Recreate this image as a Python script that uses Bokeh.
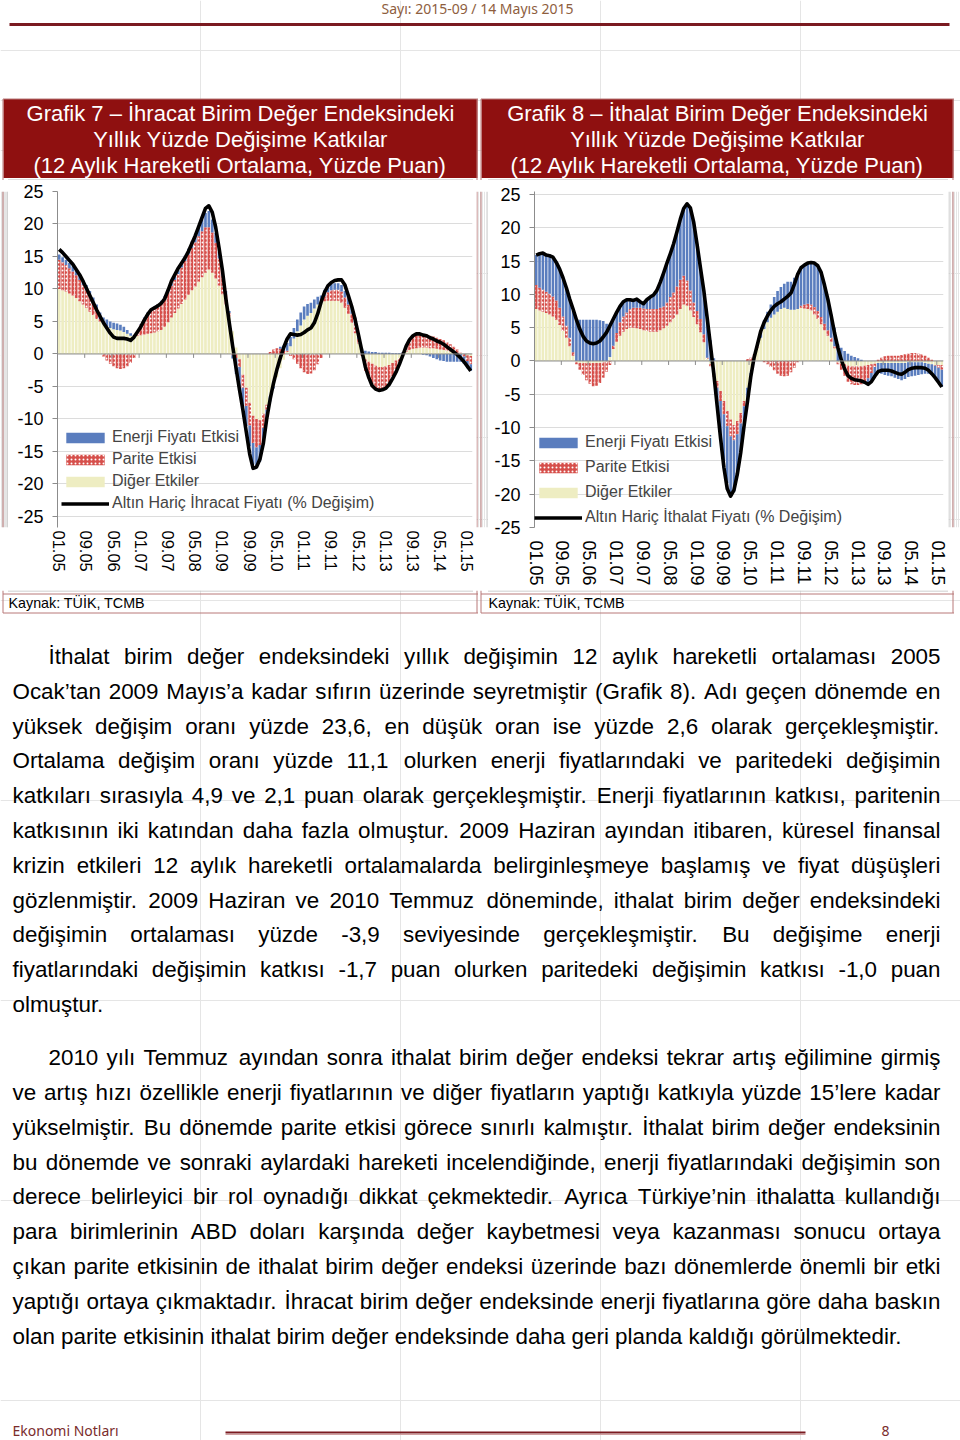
import numpy as np
from bokeh.plotting import figure
from bokeh.models import Range1d, FixedTicker, Span, Legend, LegendItem
from bokeh.layouts import column, row
from bokeh.embed import file_html
from bokeh.resources import INLINE
from bokeh.core.properties import value

FONT = "Liberation Sans"

# ---------------- data ----------------
month_idx = list(range(122))          # 01.05 ... 02.15, monthly
tick_pos = [0, 8, 16, 24, 32, 40, 48, 56, 64, 72, 80, 88, 96, 104, 112, 120]
tick_labels = ["01.05", "09.05", "05.06", "01.07", "09.07", "05.08", "01.09", "09.09",
               "05.10", "01.11", "09.11", "05.12", "01.13", "09.13", "05.14", "01.15"]
y_ticks = [-25, -20, -15, -10, -5, 0, 5, 10, 15, 20, 25]

# Grafik 7 - export unit value index
exp_diger = [10.0, 9.8, 9.6, 9.3, 9.0, 8.6, 8.1, 7.6, 7.1, 6.5,
             6.0, 5.4, 5.0, 4.6, 4.3, 4.0, 3.8, 3.7, 3.6, 3.4,
             3.1, 2.8, 2.7, 2.8, 2.9, 3.0, 3.1, 3.2, 3.3, 3.5,
             3.7, 4.2, 4.9, 5.6, 6.3, 7.0, 7.7, 8.4, 9.1, 9.8,
             10.4, 11.1, 11.8, 12.5, 13.0, 12.5, 11.6, 10.5, 9.2, 7.6,
             5.8, 3.5, 1.0, -0.8, -3.2, -5.2, -7.5, -9.5, -10.0, -10.2,
             -9.2, -7.8, -6.5, -5.0, -3.6, -2.2, -0.9, 0.3, 1.2, 2.4,
             3.5, 4.4, 5.3, 5.9, 6.3, 7.0, 7.6, 7.9, 8.1, 8.2,
             8.2, 8.2, 8.2, 7.9, 7.1, 6.2, 4.8, 3.2, 1.6, 0.2,
             -0.8, -1.2, -1.5, -1.8, -2.0, -2.0, -1.9, -1.7, -1.4, -1.0,
             -0.6, -0.2, 0.3, 0.6, 0.8, 0.9, 1.0, 1.0, 1.0, 0.9,
             0.9, 0.8, 0.7, 0.6, 0.5, 0.4, 0.3, 0.2, 0.1, 0.0,
             -0.2, -0.3]
exp_parite = [4.5, 4.3, 4.1, 3.9, 3.7, 3.5, 3.3, 3.0, 2.7, 2.4,
              1.8, 1.2, 0.4, -0.4, -1.0, -1.5, -1.9, -2.2, -2.3, -2.2,
              -1.9, -1.4, -0.6, 0.6, 1.6, 2.5, 3.2, 3.6, 3.9, 4.1,
              4.3, 4.5, 4.7, 4.9, 5.1, 5.3, 5.6, 5.9, 6.2, 6.5,
              6.8, 7.0, 7.1, 7.0, 6.5, 6.2, 5.5, 4.2, 2.8, 1.5,
              0.5, -0.2, -0.6, -1.2, -2.0, -2.8, -3.5, -4.2, -4.4, -3.8,
              -2.2, -0.8, 0.3, 0.7, 0.9, 0.8, 0.5, 0.2, -0.3, -0.8,
              -1.5, -2.2, -2.8, -3.1, -3.0, -2.5, -1.6, -0.6, 0.8, 1.3,
              1.6, 1.7, 1.7, 1.7, 1.6, 1.4, 1.4, 1.5, 0.7, -0.3,
              -1.8, -2.6, -3.2, -3.5, -3.6, -3.5, -3.2, -2.7, -2.0, -1.3,
              -0.6, 0.2, 0.8, 1.4, 1.8, 2.0, 2.1, 2.0, 2.0, 1.9,
              1.8, 1.7, 1.6, 1.5, 1.3, 1.1, 0.8, 0.5, 0.1, -0.4,
              -0.9, -1.3]
exp_enerji = [0.8, 0.8, 0.8, 0.8, 0.8, 0.8, 0.8, 0.8, 0.8, 0.8,
              0.9, 1.0, 1.0, 1.0, 1.0, 1.0, 1.0, 1.0, 0.9, 0.8,
              0.6, 0.4, 0.2, 0.1, 0.1, 0.1, 0.1, 0.1, 0.1, 0.1,
              0.2, 0.2, 0.3, 0.4, 0.5, 0.6, 0.7, 0.8, 0.9, 1.0,
              1.2, 1.4, 1.8, 2.2, 2.5, 2.0, 1.5, 1.0, 0.8, 0.6,
              0.3, -0.5, -2.5, -3.0, -3.0, -3.1, -3.2, -3.3, -3.0, -2.6,
              -2.0, -1.4, -0.8, -0.3, 0.0, 0.3, 0.8, 1.2, 1.4, 1.6,
              1.8, 2.0, 2.0, 1.8, 1.6, 1.4, 1.2, 1.1, 1.0, 1.0,
              1.0, 1.0, 1.0, 1.0, 1.0, 1.0, 1.0, 0.9, 0.8, 0.6,
              0.5, 0.4, 0.3, 0.3, 0.2, 0.2, 0.2, 0.2, 0.1, 0.1,
              0.1, 0.1, 0.1, 0.1, 0.0, 0.0, 0.0, -0.1, -0.2, -0.4,
              -0.6, -0.8, -1.0, -1.1, -1.2, -1.2, -1.2, -1.2, -1.2, -1.1,
              -1.1, -1.0]
exp_total = [16.1, 15.6, 15.0, 14.4, 13.8, 13.0, 12.2, 11.2, 10.1, 9.0,
             7.9, 6.8, 5.8, 4.8, 4.0, 3.2, 2.6, 2.4, 2.4, 2.4,
             2.3, 2.1, 2.6, 3.4, 4.2, 5.2, 6.1, 6.8, 7.1, 7.4,
             7.8, 8.5, 9.8, 11.2, 12.2, 13.2, 14.0, 14.8, 15.8, 17.0,
             18.2, 19.6, 21.0, 22.4, 22.8, 21.8, 19.5, 16.3, 12.8, 8.5,
             4.8, 1.2, -2.2, -5.5, -8.6, -12.0, -15.4, -17.6, -17.4, -16.2,
             -13.8, -10.0, -7.0, -4.5, -2.4, -0.6, 1.0, 2.3, 3.1, 3.0,
             2.9, 3.0, 3.3, 3.7, 4.0, 4.8, 6.2, 8.0, 9.5, 10.5,
             11.0, 11.3, 11.4, 11.4, 10.6, 9.0, 7.3, 5.3, 2.9, 0.4,
             -2.0, -3.6, -4.9, -5.4, -5.6, -5.5, -5.3, -4.7, -3.8, -2.8,
             -1.6, -0.2, 1.2, 2.2, 2.8, 3.1, 3.1, 2.9, 2.8, 2.5,
             2.3, 2.0, 1.8, 1.5, 1.1, 0.7, 0.3, -0.1, -0.6, -1.2,
             -1.9, -2.6]

# Grafik 8 - import unit value index
imp_diger = [7.8, 7.6, 7.4, 7.2, 7.0, 6.7, 6.2, 5.4, 4.5, 3.5,
             2.2, 0.8, -0.2, -0.3, -0.3, -0.3, -0.3, -0.3, -0.3, -0.3,
             -0.2, -0.1, 0.6, 1.8, 2.9, 3.8, 4.4, 4.8, 5.0, 5.0,
             4.9, 4.8, 4.6, 4.5, 4.4, 4.4, 4.4, 4.6, 4.9, 5.3,
             5.8, 6.3, 7.0, 7.8, 8.5, 8.3, 7.6, 6.6, 5.5, 4.3,
             2.8, 0.3, -0.5, -1.8, -3.0, -4.5, -6.0, -7.5, -8.8, -9.6,
             -9.0, -7.8, -6.0, -4.0, -1.8, 0.5, 2.0, 3.5, 4.8, 5.8,
             6.5, 7.0, 7.4, 7.8, 8.0, 7.8, 7.7, 7.7, 7.8, 8.0,
             7.9, 7.8, 7.6, 7.0, 6.3, 5.5, 4.6, 3.8, 2.9, 1.9,
             -0.2, -0.4, -0.5, -0.7, -0.8, -0.8, -0.8, -0.8, -0.7, -0.6,
             -0.5, -0.4, -0.3, -0.3, -0.3, -0.3, -0.3, -0.3, -0.3, -0.3,
             -0.3, -0.2, -0.2, -0.2, -0.2, -0.2, -0.3, -0.4, -0.5, -0.6,
             -0.6, -0.6]
imp_parite = [3.6, 3.4, 3.3, 3.2, 3.1, 3.0, 2.9, 2.6, 2.2, 1.8,
              1.3, 0.5, -0.3, -1.0, -1.8, -2.6, -3.1, -3.5, -3.4, -3.0,
              -2.3, -1.5, -0.6, 0.5, 1.3, 2.0, 2.3, 2.5, 2.8, 3.0,
              3.1, 3.2, 3.3, 3.3, 3.4, 3.4, 3.4, 3.4, 3.3, 3.5,
              3.8, 4.0, 4.2, 4.4, 4.3, 3.8, 3.0, 2.2, 2.0, 2.0,
              1.2, 0.2, -0.3, -0.6, -1.0, -1.5, -2.0, -2.3, -2.5, -2.3,
              -2.0, -1.6, -0.8, 0.3, 0.5, 0.5, 0.3, 0.0, -0.2, -0.5,
              -0.9, -1.4, -1.9, -2.2, -2.3, -2.2, -1.7, -1.0, -0.2, 0.3,
              0.6, 0.8, 0.9, 1.1, 1.2, 1.1, 1.0, 0.8, 0.6, 0.3,
              -0.3, -0.9, -1.7, -2.4, -2.7, -2.8, -2.8, -2.7, -2.5, -2.0,
              -1.3, -0.5, 0.2, 0.5, 0.7, 0.8, 0.8, 0.8, 0.8, 0.9,
              1.0, 1.1, 1.2, 1.2, 1.1, 1.0, 0.8, 0.5, 0.2, -0.1,
              -0.4, -0.7]
imp_enerji = [4.5, 5.1, 5.5, 5.5, 5.7, 5.9, 5.7, 5.8, 5.8, 5.7,
              5.8, 6.3, 6.3, 6.2, 6.2, 6.2, 6.2, 6.2, 6.2, 6.1,
              6.0, 5.6, 5.0, 4.0, 3.1, 2.4, 2.2, 1.9, 1.4, 1.1,
              1.3, 0.9, 0.7, 1.4, 1.8, 2.1, 2.8, 3.8, 5.0, 5.9,
              6.5, 7.3, 8.2, 9.1, 10.1, 11.5, 12.4, 12.0, 10.0, 7.7,
              6.6, 6.0, 3.1, 0.4, -2.5, -5.0, -7.0, -8.5, -9.0, -7.8,
              -6.2, -4.5, -2.8, -2.3, -1.0, 0.0, 0.5, 1.0, 1.3, 1.6,
              2.0, 2.6, 3.1, 3.3, 3.6, 4.1, 4.2, 4.8, 5.4, 5.7,
              5.9, 6.1, 6.3, 6.6, 6.8, 6.7, 5.8, 4.7, 3.5, 2.8,
              2.5, 2.0, 1.5, 1.1, 0.8, 0.6, 0.4, 0.2, 0.0, -0.9,
              -1.3, -1.4, -1.5, -1.6, -1.8, -1.9, -2.0, -2.2, -2.4, -2.6,
              -2.4, -2.2, -2.1, -2.0, -1.9, -1.8, -1.6, -1.5, -1.6, -1.8,
              -2.2, -2.6]
imp_total = [15.9, 16.1, 16.2, 15.9, 15.8, 15.6, 14.8, 13.8, 12.5, 11.0,
             9.3, 7.8, 6.2, 4.8, 3.7, 3.0, 2.7, 2.6, 2.7, 3.0,
             3.6, 4.3, 5.3, 6.3, 7.3, 8.2, 8.9, 9.2, 9.2, 9.1,
             9.3, 8.9, 8.6, 9.2, 9.6, 9.9, 10.6, 11.8, 13.2, 14.7,
             16.1, 17.6, 19.4, 21.3, 22.9, 23.6, 23.0, 20.8, 17.5, 14.0,
             10.6, 6.5, 2.3, -2.0, -6.8, -11.6, -16.0, -19.2, -20.3, -19.4,
             -17.0, -13.8, -9.8, -6.2, -2.4, 0.5, 2.5, 4.5, 5.8, 6.8,
             7.6, 8.2, 8.6, 8.9, 9.3, 9.7, 10.2, 11.5, 13.0, 14.0,
             14.4, 14.7, 14.8, 14.7, 14.3, 13.3, 11.4, 9.3, 6.8, 4.2,
             2.0, 0.2, -1.2, -2.2, -2.6, -2.8, -2.9, -3.0, -3.2, -3.5,
             -3.1, -2.3, -1.6, -1.4, -1.4, -1.4, -1.5, -1.7, -1.9, -2.0,
             -1.7, -1.3, -1.1, -1.0, -1.0, -1.0, -1.1, -1.4, -1.9, -2.5,
             -3.2, -3.9]

legend_labels = ["Enerji Fiyatı Etkisi", "Parite Etkisi", "Diğer Etkiler"]
line_label_7 = "Altın Hariç İhracat Fiyatı (% Değişim)"
line_label_8 = "Altın Hariç İthalat Fiyatı (% Değişim)"

title_7 = ["Grafik 7 – İhracat Birim Değer Endeksindeki", "Yıllık Yüzde Değişime Katkılar",
           "(12 Aylık Hareketli Ortalama, Yüzde Puan)"]
title_8 = ["Grafik 8 – İthalat Birim Değer Endeksindeki", "Yıllık Yüzde Değişime Katkılar",
           "(12 Aylık Hareketli Ortalama, Yüzde Puan)"]
source_text = "Kaynak: TÜİK, TCMB"

para1 = [
    "İthalat birim değer endeksindeki yıllık değişimin 12 aylık hareketli ortalaması 2005",
    "Ocak’tan 2009 Mayıs’a kadar sıfırın üzerinde seyretmiştir (Grafik 8). Adı geçen dönemde en",
    "yüksek değişim oranı yüzde 23,6, en düşük oran ise yüzde 2,6 olarak gerçekleşmiştir.",
    "Ortalama değişim oranı yüzde 11,1 olurken enerji fiyatlarındaki ve paritedeki değişimin",
    "katkıları sırasıyla 4,9 ve 2,1 puan olarak gerçekleşmiştir. Enerji fiyatlarının katkısı, paritenin",
    "katkısının iki katından daha fazla olmuştur. 2009 Haziran ayından itibaren, küresel finansal",
    "krizin etkileri 12 aylık hareketli ortalamalarda belirginleşmeye başlamış ve fiyat düşüşleri",
    "gözlenmiştir. 2009 Haziran ve 2010 Temmuz döneminde, ithalat birim değer endeksindeki",
    "değişimin ortalaması yüzde -3,9 seviyesinde gerçekleşmiştir. Bu değişime enerji",
    "fiyatlarındaki değişimin katkısı -1,7 puan olurken paritedeki değişimin katkısı -1,0 puan",
    "olmuştur.",
]
para2 = [
    "2010 yılı Temmuz ayından sonra ithalat birim değer endeksi tekrar artış eğilimine girmiş",
    "ve artış hızı özellikle enerji fiyatlarının ve diğer fiyatların yaptığı katkıyla yüzde 15’lere kadar",
    "yükselmiştir. Bu dönemde parite etkisi görece sınırlı kalmıştır. İthalat birim değer endeksinin",
    "bu dönemde ve sonraki aylardaki hareketi incelendiğinde, enerji fiyatlarındaki değişimin son",
    "derece belirleyici bir rol oynadığı dikkat çekmektedir. Ayrıca Türkiye’nin ithalatta kullandığı",
    "para birimlerinin ABD doları karşında değer kaybetmesi veya kazanması sonucu ortaya",
    "çıkan parite etkisinin de ithalat birim değer endeksi üzerinde bazı dönemlerde önemli bir etki",
    "yaptığı ortaya çıkmaktadır. İhracat birim değer endeksinde enerji fiyatlarına göre daha baskın",
    "olan parite etkisinin ithalat birim değer endeksinde daha geri planda kaldığı görülmektedir.",
]

# ---------------- styling ----------------
MAROON = "#8F1010"
BOX = "#B87878"
GRAY = "#BFBFBF"
C_BLUE = "#5A7DBE"
C_RED = "#D64F4B"
C_YEL = "#EEEDC2"

# Arial/Liberation Sans advance widths (1/1000 em) for justification
CW = {' ': 278, ',': 278, '.': 278, '(': 333, ')': 333, '-': 333, '’': 222, ':': 278, '%': 889,
      '/': 278, '–': 556,
      'a': 556, 'b': 556, 'c': 500, 'd': 556, 'e': 556, 'f': 278, 'g': 556, 'h': 556, 'i': 222,
      'j': 222, 'k': 500, 'l': 222, 'm': 833, 'n': 556, 'o': 556, 'p': 556, 'q': 556, 'r': 333,
      's': 500, 't': 278, 'u': 556, 'v': 500, 'w': 722, 'x': 500, 'y': 500, 'z': 500,
      'A': 667, 'B': 667, 'C': 722, 'D': 722, 'E': 667, 'F': 611, 'G': 778, 'H': 722, 'I': 278,
      'J': 500, 'K': 667, 'L': 556, 'M': 833, 'N': 722, 'O': 778, 'P': 667, 'R': 722, 'S': 667,
      'T': 611, 'U': 722, 'V': 667, 'Y': 667, 'Z': 611,
      'ç': 500, 'ş': 500, 'ğ': 556, 'ı': 278, 'ü': 556, 'ö': 556, 'İ': 278, 'Ü': 722, 'Ç': 722,
      'Ş': 667, 'Ö': 778}
BODY_FS = 22.4


def tw(s, fs):
    return sum(CW.get(c, 556) for c in s) * fs / 1000.0


def justify(lines, y0, dy, xl, xr, indent):
    xs, ys, ts = [], [], []
    for k, line in enumerate(lines):
        words = line.split(" ")
        ws = [tw(w, BODY_FS) for w in words]
        x0 = xl + (indent if k == 0 else 0)
        if k < len(lines) - 1 and len(words) > 1:
            gap = (xr - x0 - sum(ws)) / (len(words) - 1)
        else:
            gap = tw(" ", BODY_FS)
        x = x0
        for w, wd in zip(words, ws):
            xs.append(x)
            ys.append(y0 + k * dy)
            ts.append(w)
            x += wd + gap
    return xs, ys, ts


def canvas(w, h, x0, x1, y0, y1):
    p = figure(width=w, height=h, x_range=Range1d(x0, x1), y_range=Range1d(y1, y0),
               output_backend="svg", toolbar_location=None,
               x_axis_location=None, y_axis_location=None, min_border=0)
    p.outline_line_color = None
    p.background_fill_color = "white"
    p.border_fill_color = "white"
    return p


def stack_bounds(series_list):
    n = len(series_list[0])
    pos = np.zeros(n)
    neg = np.zeros(n)
    out = []
    for s in series_list:
        s = np.asarray(s, dtype=float)
        bottom = np.where(s >= 0, pos, neg)
        top = bottom + s
        pos = np.where(s >= 0, top, pos)
        neg = np.where(s < 0, top, neg)
        out.append((bottom, top))
    return out


def chart(w, h, bl, br, bt, bb, yr, diger, parite, enerji, total, line_label,
          xfs, yfs, xstand, leg_loc, leg_spacing, tick_len):
    p = figure(width=w, height=h, x_range=Range1d(-0.5, 121.5), y_range=Range1d(*yr),
               output_backend="svg", toolbar_location=None,
               min_border_left=bl, min_border_right=br, min_border_top=bt, min_border_bottom=bb)
    p.outline_line_color = None
    p.background_fill_color = "white"
    p.border_fill_color = "white"

    p.yaxis.ticker = FixedTicker(ticks=y_ticks)
    p.yaxis.major_label_overrides = {t: str(t) for t in y_ticks}
    p.yaxis.major_label_text_font = FONT
    p.yaxis.major_label_text_font_size = yfs
    p.yaxis.major_label_text_color = "black"
    p.yaxis.axis_line_color = "#8C8C8C"
    p.yaxis.major_tick_line_color = "#8C8C8C"
    p.yaxis.major_tick_out = 5
    p.yaxis.major_tick_in = 0
    p.yaxis.minor_tick_line_color = None
    p.yaxis.major_label_standoff = 9

    p.xaxis.ticker = FixedTicker(ticks=tick_pos)
    p.xaxis.major_label_overrides = dict(zip(tick_pos, tick_labels))
    p.xaxis.major_label_orientation = "vertical"
    p.xaxis.major_label_text_font = FONT
    p.xaxis.major_label_text_font_size = xfs
    p.xaxis.major_label_text_color = "black"
    p.xaxis.axis_line_color = None
    p.xaxis.major_tick_line_color = None
    p.xaxis.minor_tick_line_color = None
    p.xaxis.major_tick_out = 0
    p.xaxis.major_tick_in = 0
    p.xaxis.minor_tick_out = 0
    p.xaxis.major_label_standoff = xstand

    p.xgrid.visible = False
    p.ygrid.grid_line_color = "#DCDCDC"
    p.ygrid.grid_line_width = 1

    (b_y, t_y), (b_r, t_r), (b_b, t_b) = stack_bounds([diger, parite, enerji])
    r_y = p.vbar(x=month_idx, width=0.78, bottom=b_y, top=t_y, fill_color=C_YEL,
                 line_color=None)
    r_r = p.vbar(x=month_idx, width=0.78, bottom=b_r, top=t_r, fill_color=C_RED,
                 line_color=None, hatch_pattern="dot", hatch_color="white",
                 hatch_scale=4, hatch_weight=1.8)
    r_b = p.vbar(x=month_idx, width=0.78, bottom=b_b, top=t_b, fill_color=C_BLUE,
                 line_color=None)

    p.add_layout(Span(location=0, dimension="width", line_color="#8C8C8C", line_width=1))
    bx = [t - 0.5 for t in tick_pos[1:]]
    p.segment(x0=bx, x1=bx, y0=[0] * len(bx), y1=[-tick_len] * len(bx),
              line_color="#8C8C8C", line_width=1)

    r_l = p.line(x=month_idx, y=total, line_color="black", line_width=3.6, line_join="round")

    legend = Legend(items=[LegendItem(label=value(legend_labels[0]), renderers=[r_b]),
                           LegendItem(label=value(legend_labels[1]), renderers=[r_r]),
                           LegendItem(label=value(legend_labels[2]), renderers=[r_y]),
                           LegendItem(label=value(line_label), renderers=[r_l])],
                    location=leg_loc, glyph_width=48, glyph_height=13, label_height=20,
                    spacing=leg_spacing, padding=0, margin=0, border_line_color=None,
                    background_fill_alpha=0, label_text_font=FONT,
                    label_text_font_size="16px", label_standoff=3)
    p.add_layout(legend)
    return p


# ---------------- head (y 0-180) ----------------
head = canvas(960, 180, 0, 960, 0, 180)
head.text(x=[477], y=[8], text=["Sayı: 2015-09 / 14 Mayıs 2015"], text_align="center",
          text_baseline="middle", text_color="#8E5E3E", text_font=value("Noto Sans"),
          text_font_size=value("14px"))
head.segment(x0=[9], x1=[949], y0=[24], y1=[24], line_color="#7A1A20", line_width=3)
head.quad(left=[3, 481], right=[477, 953], top=[98.5, 98.5], bottom=[177.5, 177.5],
          fill_color=MAROON, line_color=None)
head.segment(x0=[2.5, 480.5, 2.5, 476.5, 480.5, 952.5],
             x1=[477.5, 953.5, 2.5, 476.5, 480.5, 952.5],
             y0=[98.5, 98.5, 98.5, 98.5, 98.5, 98.5], y1=[98.5, 98.5, 180, 180, 180, 180],
             line_color=BOX, line_width=1)
head.segment(x0=[7.5, 487.5, 7.5, 472.5, 487.5, 947.5], x1=[472.5, 947.5, 7.5, 472.5, 487.5, 947.5],
             y0=[179.5, 179.5, 179.5, 179.5, 179.5, 179.5], y1=[179.5, 179.5, 180, 180, 180, 180],
             line_color=GRAY, line_width=1)
for cx, lines in ((240, title_7), (717, title_8)):
    head.text(x=[cx] * 3, y=[113, 139, 164.5], text=lines, text_align="center",
              text_baseline="middle", text_color="white", text_font=value(FONT),
              text_font_size=value("22px"))

# ---------------- middle strips + charts (y 180-590) ----------------
def strip(w, xs_lines):
    s = canvas(w, 410, 0, w, 0, 410)
    for x, col in xs_lines:
        s.segment(x0=[x], x1=[x], y0=[0], y1=[410], line_color=col, line_width=1)
    return s

stripA = strip(8, [(2.5, BOX), (7.5, GRAY)])
stripB = strip(12, [(0.5, BOX), (4.5, BOX), (11.5, GRAY)])
stripD = strip(12, [(0.5, GRAY), (4.5, BOX)])

# both frames span page y 191..527 (row aligns frames); ranges chosen so that
# chart 7 shows 25..-25 at y 191..516 and chart 8 at y 194..527 as in the original
c7 = chart(468, 410, 49, 4, 11, 63, (-26.7, 25), exp_diger, exp_parite, exp_enerji, exp_total,
           line_label_7, "16.5px", "18px", 3, (4, 14), 2, 0.6)
c8 = chart(460, 410, 46, 5, 11, 63, (-25, 25.45), imp_diger, imp_parite, imp_enerji, imp_total,
           line_label_8, "18px", "18px", 13, (0, 0), 5, 0.6)

# ---------------- body (y 590-1440) ----------------
body = canvas(960, 850, 0, 960, 590, 1440)
body.segment(x0=[7.5, 487.5], x1=[472.5, 947.5], y0=[590.5, 590.5], y1=[590.5, 590.5],
             line_color=GRAY, line_width=1)
body.segment(x0=[2.5, 480.5, 2.5, 480.5, 2.5, 476.5, 480.5, 952.5],
             x1=[477.5, 953.5, 477.5, 953.5, 2.5, 476.5, 480.5, 952.5],
             y0=[593.5, 593.5, 612.5, 612.5, 590, 590, 590, 590],
             y1=[593.5, 593.5, 612.5, 612.5, 612.5, 612.5, 612.5, 612.5],
             line_color=BOX, line_width=1)
body.text(x=[8, 488], y=[602.5, 602.5], text=[source_text, source_text], text_align="left",
          text_baseline="middle", text_color="black", text_font=value(FONT),
          text_font_size=value("14.3px"))

x1s, y1s, t1s = justify(para1, 656, 34.8, 12, 940, 36)
x2s, y2s, t2s = justify(para2, 1057, 34.87, 12, 940, 36)
body.text(x=x1s + x2s, y=y1s + y2s, text=t1s + t2s, text_align="left", text_baseline="middle",
          text_color="black", text_font=value(FONT), text_font_size=value("%.1fpx" % BODY_FS))

body.text(x=[12], y=[1430], text=["Ekonomi Notları"], text_align="left", text_baseline="middle",
          text_color="#7A2C2C", text_font=value("Noto Sans"), text_font_size=value("14px"))
body.text(x=[885], y=[1430], text=["8"], text_align="center", text_baseline="middle",
          text_color="#7A2C2C", text_font=value("Noto Sans"), text_font_size=value("14px"))
body.segment(x0=[225], x1=[805], y0=[1432], y1=[1432], line_color="#7A1A20", line_width=2)
body.segment(x0=[225], x1=[805], y0=[1434], y1=[1434], line_color="#D0A0A0", line_width=1)

layout = column(head, row(stripA, c7, stripB, c8, stripD, spacing=0), body, spacing=0)

open("out.html", "w").write(file_html(layout, INLINE))
